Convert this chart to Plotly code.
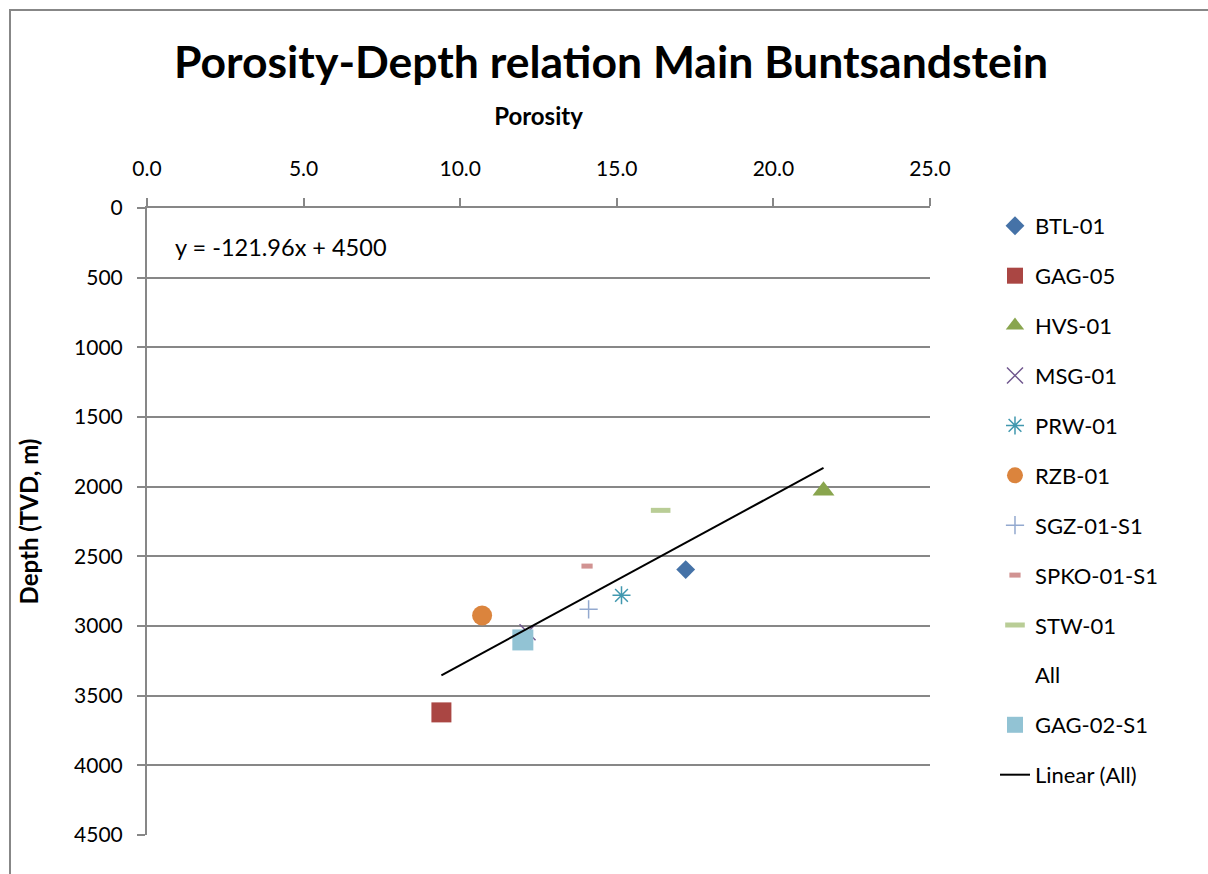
import plotly.graph_objects as go

# Mean porosity (%) and depth (TVD, m) per well
wells = ["BTL-01", "GAG-05", "HVS-01", "MSG-01", "PRW-01", "RZB-01",
         "SGZ-01-S1", "SPKO-01-S1", "STW-01", "GAG-02-S1"]
porosity = [17.2, 9.4, 21.6, 12.15, 15.15, 10.7, 14.1, 14.05, 16.4, 12.0]
depth = [2595, 3620, 2030, 3045, 2780, 2925, 2880, 2570, 2170, 3100]

# Trend fitted on all wells
slope = -121.96
intercept = 4500

x_ticks = [0, 5, 10, 15, 20, 25]
y_ticks = [0, 500, 1000, 1500, 2000, 2500, 3000, 3500, 4000, 4500]

styles = {
    "BTL-01": dict(symbol="diamond", size=14.5, color="#4572A7"),
    "GAG-05": dict(symbol="square", size=20, color="#AA4643"),
    "HVS-01": dict(symbol="triangle-up", size=19, color="#89A54E"),
    "MSG-01": dict(symbol="x-thin-open", size=16, color="#71588F", line=dict(width=1.5, color="#71588F")),
    "PRW-01": dict(symbol="asterisk-open", size=15, color="#4198AF", line=dict(width=1.5, color="#4198AF")),
    "RZB-01": dict(symbol="circle", size=20, color="#DB843D"),
    "SGZ-01-S1": dict(symbol="cross-thin-open", size=13, color="#93A9CF", line=dict(width=1.5, color="#93A9CF")),
    "SPKO-01-S1": dict(symbol="line-ew-open", size=8, color="#D19392", line=dict(width=5, color="#D19392")),
    "STW-01": dict(symbol="line-ew-open", size=14, color="#B9CD96", line=dict(width=5, color="#B9CD96")),
    "GAG-02-S1": dict(symbol="square", size=21, color="#92C3D4"),
}

FONT = "Lato, 'Open Sans', sans-serif"

fig = go.Figure()

order = wells[:-1]
for i, w in enumerate(order):
    k = wells.index(w)
    fig.add_trace(go.Scatter(
        x=[porosity[k]], y=[depth[k]], mode="markers", name=w,
        marker=styles[w], legendgroup=w, legendrank=i,
    ))

# "All" series: every well, no marker
fig.add_trace(go.Scatter(
    x=porosity, y=depth, mode="markers", name="All",
    marker=dict(color="rgba(0,0,0,0)", size=10), legendgroup="All", legendrank=9,
))

w = wells[-1]
fig.add_trace(go.Scatter(
    x=[porosity[-1]], y=[depth[-1]], mode="markers", name=w,
    marker=styles[w], legendgroup=w, legendrank=10,
))

x_lo, x_hi = min(porosity), max(porosity)
fig.add_trace(go.Scatter(
    x=[x_lo, x_hi], y=[slope * x_lo + intercept, slope * x_hi + intercept],
    mode="lines", name="Linear (All)", line=dict(color="black", width=2),
    legendgroup="lin", legendrank=11,
))

fig.add_annotation(
    x=0.83, y=280, xref="x", yref="y", xanchor="left", yanchor="middle",
    text=f"y = {slope}x + {intercept}", showarrow=False,
    font=dict(family=FONT, size=23.5, color="black"),
)

# outer chart frame
fig.add_shape(type="rect", xref="paper", yref="paper",
              x0=(10 - 147) / 783, x1=(1240 - 147) / 783,
              y0=(835 - 900) / 627, y1=(835 - 10) / 627,
              line=dict(color="#878787", width=2), fillcolor="rgba(0,0,0,0)", layer="below")

fig.update_layout(
    width=1208, height=874,
    margin=dict(l=147, r=278, t=208, b=39),
    paper_bgcolor="white", plot_bgcolor="white",
    font=dict(family=FONT, size=21, color="black"),
    title=dict(text="<b>Porosity-Depth relation Main Buntsandstein</b>",
               x=611 / 1208, xanchor="center", y=1 - 62 / 874, yanchor="middle",
               font=dict(family=FONT, size=44.5, color="black")),
    showlegend=True,
    legend=dict(x=1.083, xanchor="left", y=1.0048, yanchor="top",
                font=dict(family=FONT, size=22, color="black"),
                tracegroupgap=18.3, itemsizing="trace", bgcolor="rgba(0,0,0,0)",
                maxheight=800),
    xaxis=dict(side="top", range=[0, 25], tickvals=x_ticks, tickformat=".1f",
               ticks="outside", ticklen=8, tickcolor="#878787", tickwidth=1.5,
               ticklabelstandoff=14,
               showline=True, linecolor="#878787", linewidth=2,
               showgrid=False, zeroline=False,
               title=dict(text="<b>Porosity</b>", standoff=22,
                          font=dict(family=FONT, size=24))),
    yaxis=dict(range=[4500, 0], tickvals=y_ticks,
               ticks="outside", ticklen=8, tickcolor="#878787", tickwidth=1.5,
               ticklabelstandoff=10,
               showline=True, linecolor="#878787", linewidth=2,
               showgrid=True, gridcolor="#878787", gridwidth=2, zeroline=False,
               title=dict(text="<b>Depth (TVD, m)</b>", standoff=29,
                          font=dict(family=FONT, size=24))),
)

fig.write_html("out.html")
